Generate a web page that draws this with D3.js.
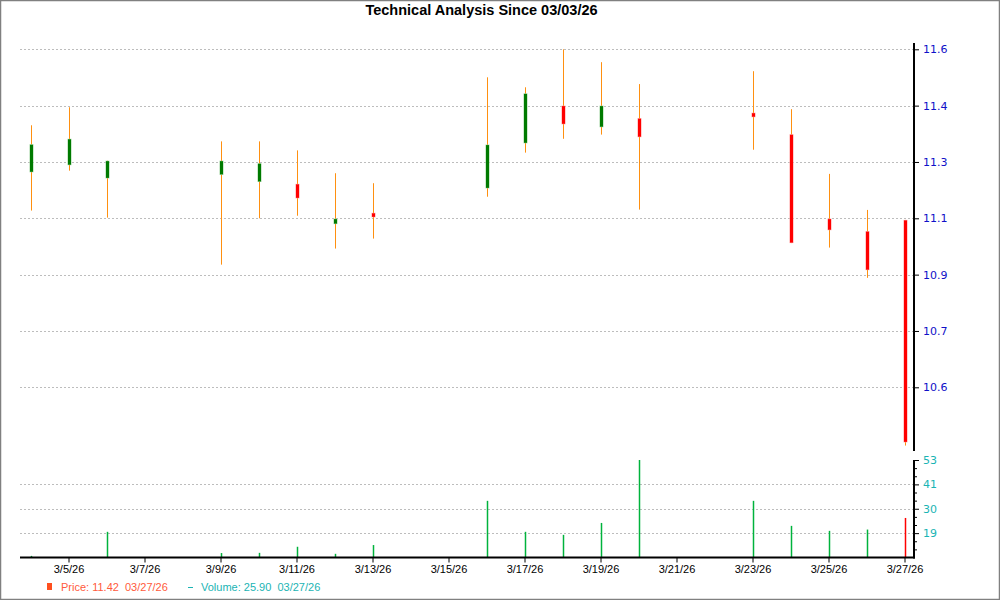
<!DOCTYPE html>
<html>
<head>
<meta charset="utf-8">
<script src="https://cdn.jsdelivr.net/npm/d3@7"></script>
<style>
  html, body { margin: 0; padding: 0; background: #fff; }
  svg { display: block; }
  text { white-space: pre; }
</style>
</head>
<body>
<svg id="chart" width="1000" height="600"></svg>
<script>
// ---- data ----
const title = "Technical Analysis Since 03/03/26";
const dates = ["2026-03-04","2026-03-05","2026-03-06","2026-03-09","2026-03-10","2026-03-11","2026-03-12","2026-03-13",
               "2026-03-16","2026-03-17","2026-03-18","2026-03-19","2026-03-20","2026-03-23","2026-03-24","2026-03-25",
               "2026-03-26","2026-03-27"];
const open  = [11.228,11.250,11.209,11.220,11.198,11.192,11.067,11.102,11.178,11.318,11.435,11.368,11.396,11.413,11.346,11.084,11.045,11.080];
const high  = [11.374,11.430,11.264,11.324,11.324,11.296,11.225,11.194,11.523,11.492,11.610,11.570,11.502,11.542,11.424,11.223,11.111,11.080];
const low   = [11.109,11.233,11.087,10.941,11.085,11.093,10.991,11.022,11.152,11.289,11.332,11.345,11.112,11.298,11.008,10.994,10.900,10.379];
const close = [11.315,11.332,11.264,11.264,11.256,11.147,11.084,11.088,11.314,11.473,11.377,11.435,11.337,11.399,11.008,11.048,10.924,10.389];
const volume = [8.4,7.65,19.5,9.7,9.8,12.6,9.35,13.4,33.8,19.5,18.1,23.6,52.65,33.8,22.25,19.95,20.55,25.9];
const priceTicks = [11.61,11.435,11.26,11.085,10.91,10.735,10.56];
const volumeTicks = [52.65,41.4,30.15,18.9];
const volumeMinorTicks = [11.4,15.15,22.65,26.4,33.9,37.65,45.15,48.9];
const xTickDates = ["2026-03-05","2026-03-07","2026-03-09","2026-03-11","2026-03-13","2026-03-15","2026-03-17",
                    "2026-03-19","2026-03-21","2026-03-23","2026-03-25","2026-03-27"];
const legendPrice = "Price: 11.42  03/27/26";
const legendVolume = "Volume: 25.90  03/27/26";

// ---- layout ----
const W = 1000, H = 600;
const plotL = 20, plotR = 914;
const svg = d3.select("#chart");
const parse = d3.utcParse("%Y-%m-%d");
const dd = dates.map(parse);

const x = d3.scaleUtc().domain([dd[0], dd[dd.length-1]]).range([30.5, 904.5]);
x.domain([x.invert(plotL), x.invert(plotR)]).range([plotL, plotR]);
const y = d3.scaleLinear().domain([10.56, 11.61]).range([387.3, 49.3]);
const yv = d3.scaleLinear().domain([7.65, 52.65]).range([557.5, 460]);

// frame
svg.append("rect").attr("x",0.5).attr("y",0.5).attr("width",W-1).attr("height",H-1)
  .attr("fill","none").attr("stroke","#808080").attr("stroke-width",1.5);

// title
svg.append("text").attr("x",481.5).attr("y",15)
  .attr("text-anchor","middle").attr("font-family","Liberation Sans, Arial, sans-serif")
  .attr("font-weight","bold").attr("font-size","14.5px").attr("fill","#000").text(title);

// gridlines
const grid = svg.append("g").attr("stroke","#bdbdbd").attr("stroke-width",1).attr("stroke-dasharray","2,2");
priceTicks.forEach(t => {
  const yy = Math.round(y(t)) + 0.5;
  grid.append("line").attr("x1",plotL).attr("x2",plotR).attr("y1",yy).attr("y2",yy);
});
volumeTicks.slice(1).forEach(t => {
  const yy = Math.round(yv(t)) + 0.5;
  grid.append("line").attr("x1",plotL).attr("x2",plotR).attr("y1",yy).attr("y2",yy);
});

// candles
const cg = svg.append("g");
dd.forEach((d,i) => {
  const cx = Math.round(x(d)) + 0.5;
  cg.append("line").attr("x1",cx).attr("x2",cx).attr("y1",y(high[i])).attr("y2",y(low[i]))
    .attr("stroke","#ff9010").attr("stroke-width",1);
  const up = close[i] >= open[i];
  const top = y(Math.max(open[i],close[i])), bot = y(Math.min(open[i],close[i]));
  cg.append("rect").attr("x",cx-2).attr("width",4).attr("y",top).attr("height",Math.max(2,bot-top))
    .attr("fill", up ? "#9fd49f" : "#ffa0a0");
  cg.append("rect").attr("x",cx-1.5).attr("width",3).attr("y",top+0.5).attr("height",Math.max(1,bot-top-1))
    .attr("fill", up ? "#007a00" : "#ff0000");
});

// volume bars
const vg = svg.append("g");
dd.forEach((d,i) => {
  const cx = Math.round(x(d)) + 0.5;
  const yy = Math.min(yv(volume[i]), yv.range()[0]);
  vg.append("line").attr("x1",cx).attr("x2",cx).attr("y1",yv.range()[0]).attr("y2",yy)
    .attr("stroke", i === dd.length-1 ? "#ff0000" : "#00b33c").attr("stroke-width",1.5);
});

// x axis
const xAxis = d3.axisBottom(x).tickValues(xTickDates.map(parse))
  .tickFormat(d => (d.getUTCMonth()+1) + "/" + d.getUTCDate() + "/" + String(d.getUTCFullYear()).slice(2))
  .tickSize(5).tickPadding(3);
const gx = svg.append("g").attr("transform","translate(0,557.5)").call(xAxis);
gx.select(".domain").remove();
gx.selectAll(".tick line").attr("stroke","#000");
gx.selectAll(".tick text").attr("font-family","Liberation Sans, Arial, sans-serif").attr("font-size","11px").attr("fill","#000");
svg.append("line").attr("x1",plotL).attr("x2",plotR+1).attr("y1",557.5).attr("y2",557.5)
  .attr("stroke","#000").attr("stroke-width",2);

// price axis (right)
svg.append("line").attr("x1",914).attr("x2",914).attr("y1",43).attr("y2",451)
  .attr("stroke","#000").attr("stroke-width",2);
const yAxis = d3.axisRight(y).tickValues(priceTicks).tickFormat(d3.format(".1f")).tickSize(5).tickPadding(4);
const gy = svg.append("g").attr("transform","translate(914,0)").call(yAxis);
gy.select(".domain").remove();
gy.selectAll(".tick line").attr("stroke","#000");
gy.selectAll(".tick text").attr("font-family","DejaVu Sans, Verdana, sans-serif").attr("font-size","11px").attr("fill","#1010c8");

// volume axis (right)
svg.append("line").attr("x1",914).attr("x2",914).attr("y1",460).attr("y2",558.5)
  .attr("stroke","#000").attr("stroke-width",2);
const vAxis = d3.axisRight(yv).tickValues(volumeTicks).tickFormat(d3.format(".0f")).tickSize(5).tickPadding(4);
const gv = svg.append("g").attr("transform","translate(914,0)").call(vAxis);
gv.select(".domain").remove();
gv.selectAll(".tick line").attr("stroke","#000");
gv.selectAll(".tick text").attr("font-family","DejaVu Sans, Verdana, sans-serif").attr("font-size","11px").attr("fill","#1ab4b4");
const vMinor = d3.axisRight(yv).tickValues(volumeMinorTicks).tickFormat("").tickSize(3);
const gvm = svg.append("g").attr("transform","translate(914,0)").call(vMinor);
gvm.select(".domain").remove();
gvm.selectAll(".tick line").attr("stroke","#000");

// legend
const lg = svg.append("g").attr("font-family","Liberation Sans, Arial, sans-serif").attr("font-size","11px");
lg.append("rect").attr("x",47).attr("y",583).attr("width",5).attr("height",7).attr("fill","#ff4f1f");
lg.append("text").attr("x",61).attr("y",591).attr("fill","#ff5a3c").text(legendPrice);
lg.append("line").attr("x1",188).attr("x2",193).attr("y1",587.5).attr("y2",587.5).attr("stroke","#1ab4b4").attr("stroke-width",1);
lg.append("text").attr("x",201).attr("y",591).attr("fill","#1ab4b4").text(legendVolume);
</script>
</body>
</html>
